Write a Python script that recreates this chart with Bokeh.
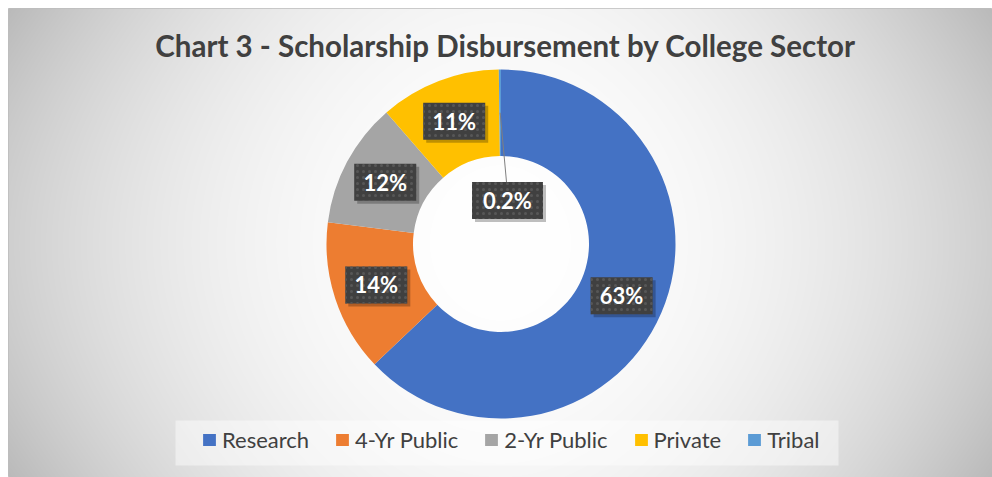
import numpy as np
from bokeh.plotting import figure
from bokeh.models import Range1d, Legend, LegendItem, ColumnDataSource, Label, BoxAnnotation
from bokeh.core.properties import value
from bokeh.embed import file_html
from bokeh.resources import INLINE

# ---- data ----
sectors = ["Research", "4-Yr Public", "2-Yr Public", "Private", "Tribal"]
shares = [62.9, 14.1, 11.6, 11.2, 0.2]
colors = ["#4472C4", "#ED7D31", "#A5A5A5", "#FFC000", "#5B9BD5"]
title_text = "Chart 3 - Scholarship Disbursement by College Sector"

# ---- layout (1 data unit = 1 pixel) ----
W, H = 984, 469
M = 8
CX, CY = 492.5, 233.5
R_OUT, R_IN = 174.5, 88.0
R_MID = (R_OUT + R_IN) / 2

p = figure(width=W + M, height=H + M, x_range=Range1d(0, W), y_range=Range1d(0, H),
           output_backend="svg", toolbar_location=None, min_border=0,
           min_border_left=M, min_border_top=M)
p.axis.visible = False
p.grid.visible = False
p.outline_line_color = "#bdbdbd"
p.background_fill_color = "#e6e6e6"
p.border_fill_color = "white"

# background radial-ish gradient
yy, xx = np.mgrid[0:H, 0:W].astype(float) + 0.5
u = (xx - W / 2) / (W / 2)
w = (yy - H / 2) / (H / 2)
drop = 48 * u ** 2 + 9 * w ** 2 + 12 * u ** 2 * w ** 2
v = np.clip(255 - drop, 0, 255).astype(np.uint8)
img = np.empty((H, W), dtype=np.uint32)
view = img.view(dtype=np.uint8).reshape((H, W, 4))
view[..., 0] = v
view[..., 1] = v
view[..., 2] = v
view[..., 3] = 255
p.image_rgba(image=[img], x=0, y=0, dw=W, dh=H)

# donut
frac = np.array(shares) / sum(shares)
cum = np.concatenate([[0.0], np.cumsum(frac)])
start = np.pi / 2 - 2 * np.pi * cum[:-1]
end = np.pi / 2 - 2 * np.pi * cum[1:]
mid = (start + end) / 2
src = ColumnDataSource(dict(sector=sectors, start=start, end=end, color=colors))
r = p.annular_wedge(x=CX, y=CY, inner_radius=R_IN, outer_radius=R_OUT,
                    start_angle="start", end_angle="end", direction="clock",
                    fill_color="color", line_color=None, source=src)

# data labels
lx, ly, lt, lw = [], [], [], []
lead_x0, lead_y0, lead_x1, lead_y1 = [], [], [], []
BOX_H = 37
for i, s in enumerate(shares):
    txt = f"{s:.1f}%" if s < 1 else f"{round(s)}%"
    if frac[i] < 0.01:
        x = CX + 6.5
        y = CY + 43.5
        lead_x0.append(CX + R_MID * np.cos(mid[i]))
        lead_y0.append(CY + R_MID * np.sin(mid[i]))
        lead_x1.append(x - 1)
        lead_y1.append(y + BOX_H / 2)
    else:
        x = CX + R_MID * np.cos(mid[i])
        y = CY + R_MID * np.sin(mid[i])
    lx.append(x)
    ly.append(y)
    lt.append(txt)
    lw.append(62 if "." not in txt else 71)

lsrc = ColumnDataSource(dict(x=lx, y=ly, text=lt, w=lw,
                             sx=[a + 3 for a in lx], sy=[b - 3 for b in ly]))
p.segment(x0=lead_x0, y0=lead_y0, x1=lead_x1, y1=lead_y1, line_color="#808080", line_width=1)
p.rect(x="sx", y="sy", width="w", height=BOX_H, source=lsrc,
       fill_color="black", fill_alpha=0.25, line_color=None)
p.rect(x="x", y="y", width="w", height=BOX_H, source=lsrc,
       fill_color="#404040", line_color=None,
       hatch_pattern="dot", hatch_color="#575757", hatch_scale=6, hatch_weight=1)
p.text(x="x", y="y", text="text", source=lsrc, text_color="white",
       text_font=value("Lato"), text_font_style="bold", text_font_size="22px",
       text_align="center", text_baseline="middle")

# title
p.add_layout(Label(x=497, y=432, text=title_text, text_font="Lato", text_font_style="bold",
                   text_font_size="29.5px", text_color="#404040", text_align="center",
                   text_baseline="alphabetic"))

# legend box
p.add_layout(BoxAnnotation(left=167, right=830, bottom=12, top=57,
                           fill_color="white", fill_alpha=0.45, line_color=None))

legend = Legend(items=[LegendItem(label=s, renderers=[r], index=i) for i, s in enumerate(sectors)],
                orientation="horizontal", location=(193, 24),
                label_text_font="Lato", label_text_font_size="22px", label_text_color="#404040",
                glyph_width=16, glyph_height=15, label_standoff=5, spacing=25,
                padding=0, margin=0, background_fill_alpha=0, border_line_color=None)
p.add_layout(legend, "center")

open("out.html", "w").write(file_html(p, INLINE))
